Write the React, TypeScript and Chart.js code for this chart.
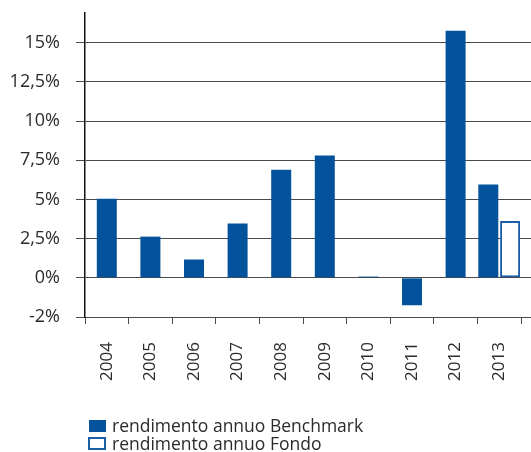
import React, { useEffect, useRef } from 'react';
import { Chart, registerables } from 'chart.js';

Chart.register(...registerables);

const years = ['2004', '2005', '2006', '2007', '2008', '2009', '2010', '2011', '2012', '2013'];
const benchmark = [5.05, 2.63, 1.17, 3.46, 6.9, 7.8, 0.08, -1.75, 15.76, 5.95];
const fondo = [null, null, null, null, null, null, null, null, null, 3.63];
const yTickValues = [-2.5, 0, 2.5, 5, 7.5, 10, 12.5, 15];
const yTickTexts = ['-2%', '0%', '2,5%', '5%', '7,5%', '10%', '12,5%', '15%'];
const seriesNames = ['rendimento annuo Benchmark', 'rendimento annuo Fondo'];

const BLUE = '#03529b';
const GRID = '#4a4a4a';
const TEXT = '#2b2b2b';
const FONT = "'Open Sans', sans-serif";

Chart.defaults.font.family = FONT;
Chart.defaults.font.size = 17;
Chart.defaults.color = TEXT;

const extendGrid = {
  id: 'extendGrid',
  afterDraw(chart: any) {
    const y = chart.scales.y;
    const ctx = chart.ctx;
    const right = chart.width;
    ctx.save();
    ctx.strokeStyle = GRID;
    ctx.lineWidth = 1;
    y.ticks.forEach((t: any) => {
      const p = y.getPixelForValue(t.value);
      const yy = Math.round(p - 0.5) + 0.5;
      ctx.beginPath();
      ctx.moveTo(chart.chartArea.right, yy);
      ctx.lineTo(right, yy);
      ctx.stroke();
    });
    ctx.restore();
  },
};

export default function App() {
  const ref = useRef<HTMLCanvasElement>(null);
  useEffect(() => {
    document.body.style.margin = '0';
    const chart = new Chart(ref.current as HTMLCanvasElement, {
      type: 'bar',
      data: {
        labels: years,
        datasets: [
          {
            label: seriesNames[0],
            data: benchmark,
            backgroundColor: BLUE,
            borderWidth: 0,
          },
          {
            label: seriesNames[1],
            data: fondo as any,
            backgroundColor: '#ffffff',
            borderColor: '#1a5ea8',
            borderWidth: 2,
            borderSkipped: false,
          },
        ],
      },
      options: {
        animation: false,
        responsive: false,
        maintainAspectRatio: false,
        skipNull: true,
        categoryPercentage: 1,
        barPercentage: 0.95,
        maxBarThickness: 20,
        layout: { padding: { left: 0, right: 10, top: 13, bottom: 55 } },
        plugins: {
          legend: { display: false },
          tooltip: { enabled: false },
        },
        scales: {
          x: {
            afterFit: (s: any) => { s.height = 80; s.paddingLeft = 0; s.paddingRight = 0; },
            grid: { drawOnChartArea: false, drawTicks: true, tickLength: 7, color: GRID, offset: true },
            border: { display: true, color: GRID, width: 1 },
            ticks: {
              minRotation: 90,
              maxRotation: 90,
              padding: 18,
              color: TEXT,
              font: { family: FONT, size: 17 },
            },
          },
          y: {
            min: -2.5,
            max: 16.9,
            afterFit: (s: any) => { s.width = 85; s.paddingTop = 0; s.paddingBottom = 0; },
            afterBuildTicks: (s: any) => { s.ticks = yTickValues.map((v) => ({ value: v })); },
            grid: { color: GRID, lineWidth: 1, tickLength: 9, drawTicks: true },
            border: { display: true, color: '#111', width: 1.5 },
            ticks: {
              padding: 16,
              color: TEXT,
              font: { family: FONT, size: 18 },
              callback: (v: any) => {
                const i = yTickValues.indexOf(Number(v));
                return i >= 0 ? yTickTexts[i] : '';
              },
            },
          },
        },
      } as any,
      plugins: [extendGrid],
    });
    return () => chart.destroy();
  }, []);

  const legendText: React.CSSProperties = {
    position: 'absolute',
    left: 112,
    fontFamily: FONT,
    fontSize: 17.5,
    color: TEXT,
    lineHeight: '18px',
    whiteSpace: 'nowrap',
  };

  return (
    <div style={{ position: 'relative', width: 531, height: 452 }}>
      <canvas ref={ref} width={531} height={452} style={{ display: 'block' }} />
      <div style={{ position: 'absolute', left: 89, top: 420, width: 17, height: 12, background: BLUE }} />
      <div style={{ ...legendText, top: 416 }}>{seriesNames[0]}</div>
      <div style={{ position: 'absolute', left: 88, top: 437, width: 14, height: 9, border: '2px solid #1a5ea8', background: '#fff' }} />
      <div style={{ ...legendText, top: 434 }}>{seriesNames[1]}</div>
    </div>
  );
}
